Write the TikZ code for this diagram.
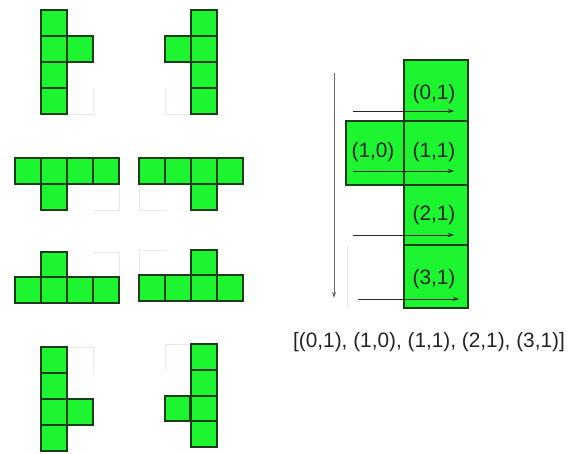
\documentclass[tikz,border=0pt]{standalone}
\usepackage{fontspec}
\setmainfont{Liberation Sans}
\usetikzlibrary{arrows.meta}
\definecolor{cellgreen}{RGB}{28,245,48}
\definecolor{celledge}{RGB}{25,60,25}
\definecolor{faint}{RGB}{232,232,232}
\definecolor{txt}{RGB}{35,35,35}
\tikzset{
  cellbox/.style={fill=cellgreen, draw=celledge, line width=1.6pt},
  bigcell/.style={fill=cellgreen, draw=celledge, line width=2.6pt},
  faintline/.style={draw=faint, line width=0.8pt},
  lbl/.style={text=txt, font=\fontsize{20.8}{24}\selectfont, inner sep=0pt, anchor=center},
  harrow/.style={draw=black!85, line width=0.8pt, -{Stealth[length=6pt,width=4pt]}},
  varrow/.style={draw=black!60, line width=0.9pt, -{Stealth[length=6pt,width=4pt]}}
}
\begin{document}
\begin{tikzpicture}[x=1pt,y=-1pt]
\useasboundingbox (0,0) rectangle (576,453);
% ---- piece 1
\draw[faintline] (93,88) -- (93,114) -- (67,114);
\foreach \y in {10,36,62,88} \draw[cellbox] (41,\y) rectangle ++(26,26);
\draw[cellbox] (67,36) rectangle ++(26,26);
% ---- piece 2
\draw[faintline] (165,88) -- (165,114) -- (191,114);
\foreach \y in {10,36,62,88} \draw[cellbox] (191,\y) rectangle ++(26,26);
\draw[cellbox] (165,36) rectangle ++(26,26);
% ---- piece 3
\draw[faintline] (93,210) -- (119,210) -- (119,185);
\foreach \x in {15,41,67,93} \draw[cellbox] (\x,158) rectangle ++(26,26);
\draw[cellbox] (41,184) rectangle ++(26,26);
% ---- piece 4
\draw[faintline] (165,210) -- (139,210) -- (139,185);
\foreach \x in {139,165,191,217} \draw[cellbox] (\x,158) rectangle ++(26,26);
\draw[cellbox] (191,184) rectangle ++(26,26);
% ---- piece 5
\draw[faintline] (93,252) -- (119,252) -- (119,277);
\draw[cellbox] (41,252) rectangle ++(26,25);
\foreach \x in {15,41,67,93} \draw[cellbox] (\x,277) rectangle ++(26,26);
% ---- piece 6
\draw[faintline] (165,250) -- (139,250) -- (139,275);
\draw[cellbox] (191,250) rectangle ++(26,25);
\foreach \x in {139,165,191,217} \draw[cellbox] (\x,275) rectangle ++(26,26);
% ---- piece 7
\draw[faintline] (67,347) -- (93,347) -- (93,373);
\foreach \y in {347,373,399,425} \draw[cellbox] (41,\y) rectangle ++(26,26);
\draw[cellbox] (67,399) rectangle ++(26,26);
% ---- piece 8
\draw[faintline] (191,344) -- (165,344) -- (165,370);
\foreach \y in {344,370,396,421} \draw[cellbox] (191,\y) rectangle ++(26,26);
\draw[cellbox] (165,396) rectangle ++(25,25);
% ---- right diagram
\draw[faintline] (347,245) -- (347,308);
\draw[bigcell] (404,60) rectangle (468,121);
\draw[bigcell] (346,121) rectangle (404,185);
\draw[bigcell] (404,121) rectangle (468,185);
\draw[bigcell] (404,185) rectangle (468,245);
\draw[bigcell] (404,245) rectangle (468,308);
\node[lbl] (c01) at (434,94) {(0,1)};
\node[lbl] (c10) at (373,152) {(1,0)};
\node[lbl] (c11) at (434,152) {(1,1)};
\node[lbl] (c21) at (434,215) {(2,1)};
\node[lbl] (c31) at (434,279) {(3,1)};
\coordinate (vs) at (334,73);
\coordinate (ve) at (334,298);
\draw[varrow] (vs) -- (ve);
\coordinate (a1s) at (353,111); \coordinate (a1e) at (454,111);
\coordinate (a2s) at (353,171); \coordinate (a2e) at (454,171);
\coordinate (a3s) at (353,235); \coordinate (a3e) at (454,235);
\coordinate (a4s) at (358,299); \coordinate (a4e) at (459,299);
\draw[harrow] (a1s) -- (a1e);
\draw[harrow] (a2s) -- (a2e);
\draw[harrow] (a3s) -- (a3e);
\draw[harrow] (a4s) -- (a4e);
\node[lbl] (list) at (429,342) {[(0,1), (1,0), (1,1), (2,1), (3,1)]};
\end{tikzpicture}
\end{document}
